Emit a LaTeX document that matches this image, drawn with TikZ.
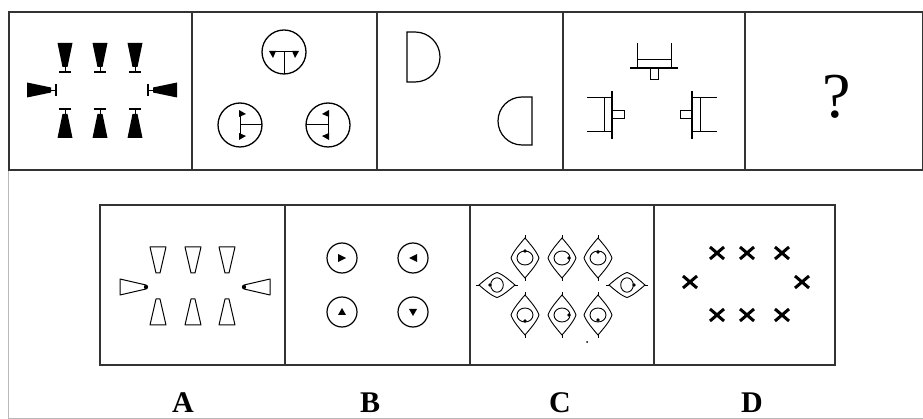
\documentclass[tikz,border=0pt]{standalone}
\usepackage{fontspec}
\setmainfont{Liberation Serif}

\tikzset{
  frame/.style={line width=1.2pt, draw=black!80},
  thinline/.style={line width=1pt},
  letter/.style={font=\fontsize{30}{30}\selectfont\bfseries, anchor=base},
  % filled wedge with a bar at its tip
  wedge/.pic={
    \fill (-7.5,0) -- (7.5,0) -- (2.5,24) -- (-2.5,24) -- cycle;
    \draw[line width=0.8pt] (0,24) -- (0,29);
    \draw[line width=1.5pt] (-6,29) -- (6,29);
  },
  % outlined wedge
  hollowwedge/.pic={
    \draw[line width=1pt, line join=round] (-8,0) -- (8,0) -- (2,26) -- (-2,26) -- cycle;
  },
  % circle with a T inside
  socket/.pic={
    \draw[line width=1.3pt] (0,0) circle (22);
    \draw[thinline] (-12,0) -- (12,0);
    \draw[thinline] (0,0) -- (0,22);
    \fill (-15,-1) -- (-8,-1) -- (-11,6) -- cycle;
    \fill (8,-1) -- (15,-1) -- (11,6) -- cycle;
  },
  % fork shape with a small stub
  plug/.pic={
    \draw[thinline] (-17,0) -- (-17,-25);
    \draw[thinline] (17,0) -- (17,-25);
    \draw[thinline] (-17,-8) -- (17,-8);
    \draw[line width=1.2pt] (-24,0) -- (24,0);
    \draw[thinline] (-4,0) rectangle (4,12);
  },
  % pointed lens with a ring
  lens/.pic={
    \draw[line width=0.9pt] (0,-20) .. controls (6,-13) and (12,-6) .. (14,0)
      .. controls (12,6) and (6,13) .. (0,20)
      .. controls (-6,13) and (-12,6) .. (-14,0)
      .. controls (-12,-6) and (-6,-13) .. (0,-20) -- cycle;
    \draw[line width=0.9pt] (0,0) ellipse (8 and 7);
    \draw[line width=0.9pt] (0,-20) -- (0,-23) (0,20) -- (0,23);
  },
  ring/.pic={
    \draw[line width=1.2pt] (0,0) circle (15);
  },
  cross/.pic={
    \draw[line width=3pt] (-7,-6) -- (7,6) (-7,6) -- (7,-6);
  }
}

\begin{document}
\begin{tikzpicture}[x=1pt,y=-1pt]
  \useasboundingbox (0,0) rectangle (923,419);
  \fill[white] (0,0) rectangle (923,419);

  % outer faint border
  \draw[gray!55, line width=1pt] (8,170) -- (8,418) -- (923,418);

  % top row frame
  \draw[frame] (9,12) rectangle (923,170);
  \foreach \x in {192,377,563,745} \draw[frame] (\x,12) -- (\x,170);
  \draw[line width=2.2pt, black!80] (9,170) -- (923,170);

  % panel 1: filled wedges
  \foreach \x in {65,100,135} {
    \pic at (\x,43) {wedge};
    \pic[rotate=180] at (\x,138) {wedge};
  }
  \pic[rotate=90] at (27,90) {wedge};
  \pic[rotate=-90] at (177,90) {wedge};

  % panel 2: sockets
  \pic at (284,52) {socket};
  \pic[rotate=90] at (240,125) {socket};
  \pic[rotate=-90] at (328,125) {socket};

  % panel 3: half discs
  \draw[line width=1.2pt] (415,32) -- (407,32) -- (407,82) -- (415,82)
    arc[start angle=-90, end angle=90, radius=25pt];
  \draw[line width=1.2pt] (522,97) -- (532,97) -- (532,145) -- (522,145)
    arc[start angle=-90, end angle=-270, radius=24pt];

  % panel 4: plugs
  \pic at (654,68) {plug};
  \pic[rotate=90] at (612,115) {plug};
  \pic[rotate=-90] at (692,115) {plug};

  % panel 5
  \node[font=\fontsize{64}{64}\selectfont] (qmark) at (837,97) {?};

  % bottom row frame
  \draw[frame] (100,205) rectangle (835,365);
  \foreach \x in {285,470,654} \draw[frame] (\x,205) -- (\x,365);

  % option A
  \foreach \x in {158,193,227} {
    \pic at (\x,247) {hollowwedge};
    \pic[rotate=180] at (\x,325) {hollowwedge};
  }
  \pic[rotate=90] at (120,287) {hollowwedge};
  \pic[rotate=-90] at (270,287) {hollowwedge};
  \fill (146,287) circle (2.2pt);
  \fill (244,287) circle (2.2pt);

  % option B
  \foreach \x/\y in {342/258,413/258,342/312,413/312} \pic at (\x,\y) {ring};
  \fill (338,254) -- (346,258) -- (338,262) -- cycle;
  \fill (417,254) -- (409,258) -- (417,262) -- cycle;
  \fill (338,315) -- (342,308) -- (346,315) -- cycle;
  \fill (409,309) -- (417,309) -- (413,316) -- cycle;

  % option C
  \foreach \x in {525,562,598} {
    \pic at (\x,258) {lens};
    \pic at (\x,315) {lens};
  }
  \pic[rotate=90, scale=0.9] at (497,285) {lens};
  \pic[rotate=90, scale=0.9] at (627,285) {lens};
  \foreach \x/\y in {525/251,569/258,598/252,490/285,634/285,525/321,569/315,598/320}
    \fill (\x,\y) circle (1.8pt);
  \fill (587,342) circle (1pt);

  % option D
  \foreach \x in {717,747,782} {
    \pic at (\x,253) {cross};
    \pic at (\x,315) {cross};
  }
  \pic at (690,282) {cross};
  \pic at (802,282) {cross};

  % labels
  \node[letter] (labA) at (183,412) {A};
  \node[letter] (labB) at (370,412) {B};
  \node[letter] (labC) at (560,412) {C};
  \node[letter] (labD) at (752,412) {D};
\end{tikzpicture}
\end{document}
